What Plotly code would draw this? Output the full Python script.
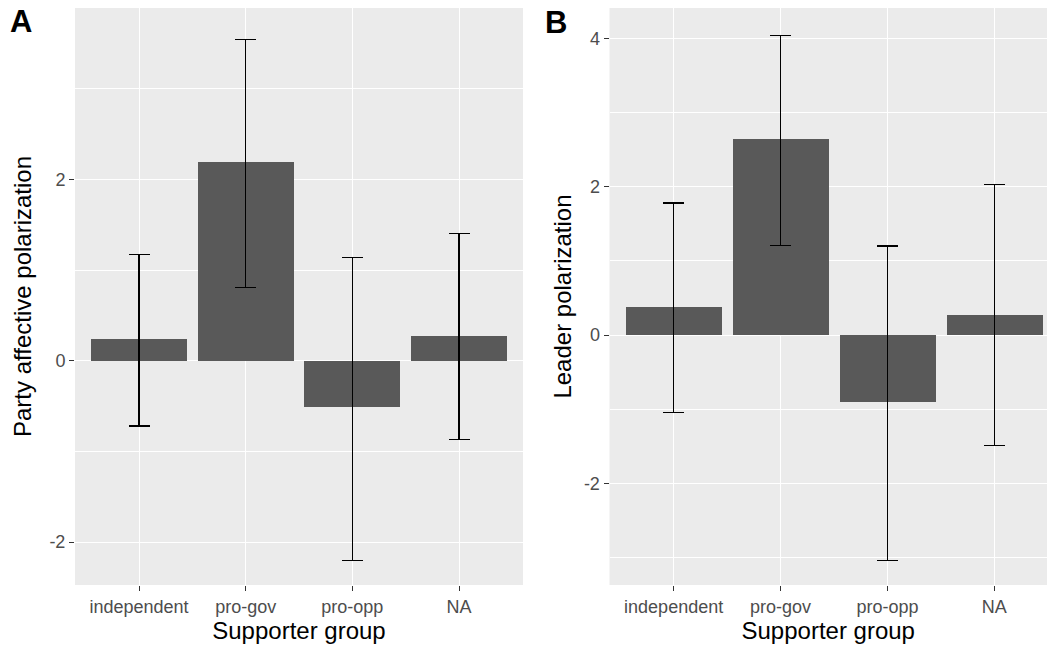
import plotly.graph_objects as go

groups = ["independent", "pro-gov", "pro-opp", "NA"]

party_mean = [0.24, 2.19, -0.51, 0.27]
party_lower = [-0.72, 0.81, -2.20, -0.87]
party_upper = [1.17, 3.54, 1.14, 1.40]

leader_mean = [0.38, 2.64, -0.90, 0.27]
leader_lower = [-1.04, 1.21, -3.04, -1.49]
leader_upper = [1.78, 4.04, 1.20, 2.03]

party_ticks = [-2, 0, 2]
leader_ticks = [-2, 0, 2, 4]

W, H = 1047, 650
BAR = "#595959"
PANEL = "#EBEBEB"
FONT = "Liberation Sans, Arial, sans-serif"

fig = go.Figure()

def add_panel(mean, lower, upper, xa, ya):
    fig.add_trace(go.Bar(
        x=list(range(1, len(groups) + 1)), y=mean, width=0.9,
        marker=dict(color=BAR, line=dict(width=0)),
        error_y=dict(type="data", symmetric=False,
                     array=[u - m for u, m in zip(upper, mean)],
                     arrayminus=[m - l for m, l in zip(mean, lower)],
                     color="black", thickness=1.3, width=10.5),
        xaxis=xa, yaxis=ya, showlegend=False, hoverinfo="skip"))

add_panel(party_mean, party_lower, party_upper, "x", "y")
add_panel(leader_mean, leader_lower, leader_upper, "x2", "y2")

def px(x):
    return x / W

def py(y):
    return 1 - y / H

ydom = [py(585), py(8)]

xcommon = dict(
    tickmode="array", tickvals=[1, 2, 3, 4], ticktext=groups,
    showgrid=True, gridcolor="white", gridwidth=1.3,
    ticks="outside", ticklen=5, tickcolor="#333333", tickwidth=1.3,
    tickfont=dict(family=FONT, size=18, color="#4D4D4D"),
    zeroline=False, showline=False,
    title=dict(text="Supporter group", font=dict(family=FONT, size=24, color="black"), standoff=6),
)

def ycommon(ticks):
    return dict(
        tickmode="array", tickvals=ticks, ticktext=[str(t) for t in ticks],
        showgrid=True, gridcolor="white", gridwidth=1.3,
        minor=dict(tickmode="linear", dtick=1, tick0=1, showgrid=True,
                   gridcolor="white", gridwidth=0.7, ticks=""),
        ticks="outside", ticklen=5, tickcolor="#333333", tickwidth=1.3,
        tickfont=dict(family=FONT, size=18, color="#4D4D4D"),
        zeroline=False, showline=False,
    )

fig.update_layout(
    width=W, height=H, autosize=False,
    margin=dict(l=0, r=0, t=0, b=0),
    paper_bgcolor="white", plot_bgcolor=PANEL,
    bargap=0,
    xaxis=dict(xcommon, domain=[px(75), px(523)], range=[0.4, 4.6], anchor="y"),
    yaxis=dict(ycommon(party_ticks), domain=ydom, range=[-2.473, 3.889], anchor="x",
               title=dict(text="Party affective polarization",
                          font=dict(family=FONT, size=24, color="black"), standoff=10)),
    xaxis2=dict(xcommon, domain=[px(609.5), 1.0], range=[0.4, 4.493], anchor="y2"),
    yaxis2=dict(ycommon(leader_ticks), domain=ydom, range=[-3.369, 4.407], anchor="x2",
                title=dict(text="Leader polarization",
                           font=dict(family=FONT, size=24, color="black"), standoff=5)),
    annotations=[
        dict(text="<b>A</b>", x=px(21.5), y=py(21.5), xref="paper", yref="paper",
             xanchor="center", yanchor="middle",
             showarrow=False, font=dict(family=FONT, size=31, color="black")),
        dict(text="<b>B</b>", x=px(556), y=py(22.5), xref="paper", yref="paper",
             xanchor="center", yanchor="middle",
             showarrow=False, font=dict(family=FONT, size=31, color="black")),
    ],
)

fig.write_html("out.html", config={"displayModeBar": False},
               post_script="document.body.style.margin='0';")
